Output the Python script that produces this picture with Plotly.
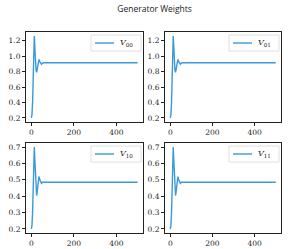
import plotly.graph_objects as go

# x positions (iterations)
steps = [0, 3, 6, 9, 12, 14, 16, 19, 22, 25, 28, 32, 36, 40, 44, 48, 52, 56, 60, 100, 200, 300, 400, 500]

v00 = [0.20, 0.24, 0.40, 0.75, 1.15, 1.26, 1.15, 0.95, 0.82, 0.79, 0.85, 0.93, 0.958, 0.93, 0.90, 0.895, 0.91, 0.918, 0.915, 0.915, 0.915, 0.915, 0.915, 0.915]
v01 = [0.20, 0.24, 0.40, 0.75, 1.15, 1.26, 1.15, 0.95, 0.82, 0.79, 0.85, 0.93, 0.958, 0.93, 0.90, 0.895, 0.91, 0.918, 0.915, 0.915, 0.915, 0.915, 0.915, 0.915]
v10 = [0.20, 0.22, 0.30, 0.48, 0.66, 0.70, 0.64, 0.52, 0.43, 0.404, 0.43, 0.49, 0.52, 0.50, 0.48, 0.478, 0.485, 0.487, 0.485, 0.485, 0.485, 0.485, 0.485, 0.485]
v11 = [0.20, 0.22, 0.30, 0.48, 0.66, 0.70, 0.64, 0.52, 0.43, 0.404, 0.43, 0.49, 0.52, 0.50, 0.48, 0.478, 0.485, 0.487, 0.485, 0.485, 0.485, 0.485, 0.485, 0.485]

labels = ["<i>V</i><sub>00</sub>", "<i>V</i><sub>01</sub>", "<i>V</i><sub>10</sub>", "<i>V</i><sub>11</sub>"]
series = [v00, v01, v10, v11]

W, H = 289, 249
xdoms = [[26 / W, 143 / W], [165 / W, 281 / W]]
ydoms = [[1 - 122 / H, 1 - 32 / H], [1 - 233 / H, 1 - 143 / H]]

color = "#3a9ad9"
fig = go.Figure()
tickfont = dict(family="DejaVu Serif", size=7.5, color="#222")

for i, (vals, lab) in enumerate(zip(series, labels)):
    r, c = divmod(i, 2)
    n = i + 1
    xa = "x" if n == 1 else f"x{n}"
    ya = "y" if n == 1 else f"y{n}"
    fig.add_trace(go.Scatter(x=steps, y=vals, mode="lines", line=dict(color=color, width=1.4),
                             xaxis=xa, yaxis=ya, showlegend=False))
    if r == 0:
        yr = [0.147, 1.313]
        tv = [0.2, 0.4, 0.6, 0.8, 1.0, 1.2]
        tt = ["0.2", "0.4", "0.6", "0.8", "1.0", "1.2"]
    else:
        yr = [0.175, 0.725]
        tv = [0.2, 0.3, 0.4, 0.5, 0.6, 0.7]
        tt = ["0.2", "0.3", "0.4", "0.5", "0.6", "0.7"]
    axcommon = dict(showgrid=False, zeroline=False, showline=True, linecolor="#222", linewidth=1,
                    mirror=True, ticks="outside", ticklen=3, tickwidth=0.8, tickcolor="#222",
                    tickfont=tickfont)
    fig.layout[("xaxis" if n == 1 else f"xaxis{n}")] = dict(
        domain=xdoms[c], range=[-25, 525], tickvals=[0, 200, 400], ticktext=["0", "200", "400"],
        anchor=ya, **axcommon)
    fig.layout[("yaxis" if n == 1 else f"yaxis{n}")] = dict(
        domain=ydoms[r], range=yr, tickvals=tv, ticktext=tt, anchor=xa, **axcommon)
    # legend box
    x1 = xdoms[c][1] - 2 / W
    x0 = x1 - 50 / W
    y1 = ydoms[r][1] - 3 / H
    y0 = y1 - 16 / H
    fig.add_shape(type="rect", xref="paper", yref="paper", x0=x0, x1=x1, y0=y0, y1=y1,
                  line=dict(color="#d8d8d8", width=0.8), fillcolor="rgba(255,255,255,0.8)")
    fig.add_shape(type="line", xref="paper", yref="paper", x0=x0 + 4 / W, x1=x0 + 23 / W,
                  y0=(y0 + y1) / 2, y1=(y0 + y1) / 2, line=dict(color=color, width=1.4))
    fig.add_annotation(xref="paper", yref="paper", x=x0 + 27 / W, y=(y0 + y1) / 2,
                       text=lab, showarrow=False, xanchor="left", yanchor="middle",
                       font=dict(family="DejaVu Serif", size=8, color="#222"))

fig.update_layout(
    width=W, height=H, margin=dict(l=0, r=0, t=0, b=0),
    paper_bgcolor="white", plot_bgcolor="white",
    title=dict(text="Generator Weights", x=0.535, y=1 - 9 / H, xanchor="center", yanchor="middle",
               font=dict(family="Open Sans", size=8.5, color="#222")),
)

fig.write_html("out.html", config={"displayModeBar": False},
               post_script="document.body.style.margin='0';document.body.style.overflow='hidden';")
